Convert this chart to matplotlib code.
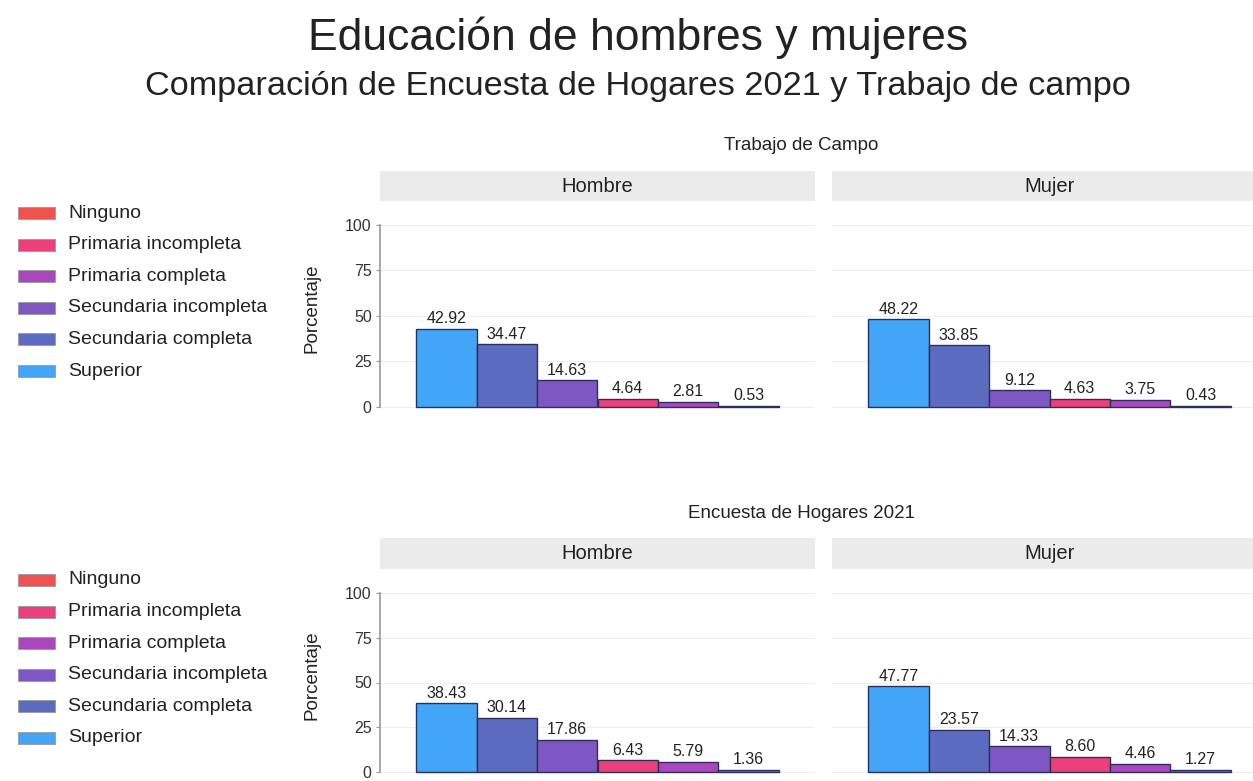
import matplotlib
matplotlib.use("Agg")
import matplotlib.pyplot as plt
from matplotlib.patches import Rectangle

plt.rcParams['font.family'] = ['Liberation Sans', 'DejaVu Sans']

W, H = 1253, 781

legend_labels = ["Ninguno", "Primaria incompleta", "Primaria completa",
                 "Secundaria incompleta", "Secundaria completa", "Superior"]
legend_colors = ["#EF5350", "#EC407A", "#AB47BC", "#7E57C2", "#5C6BC0", "#42A5F5"]
color_of = dict(zip(legend_labels, legend_colors))

bar_order = ["Superior", "Secundaria completa", "Secundaria incompleta",
             "Primaria incompleta", "Primaria completa", "Ninguno"]

tc_hombre = [42.92, 34.47, 14.63, 4.64, 2.81, 0.53]
tc_mujer = [48.22, 33.85, 9.12, 4.63, 3.75, 0.43]
eh_hombre = [38.43, 30.14, 17.86, 6.43, 5.79, 1.36]
eh_mujer = [47.77, 23.57, 14.33, 8.60, 4.46, 1.27]

sections = ["Trabajo de Campo", "Encuesta de Hogares 2021"]
panels = ["Hombre", "Mujer"]
yticks = [0, 25, 50, 75, 100]

fig = plt.figure(figsize=(W / 100, H / 100), dpi=100)
fig.patch.set_facecolor("white")


def ax_px(x0, y0, x1, y1):
    return fig.add_axes([x0 / W, 1 - y1 / H, (x1 - x0) / W, (y1 - y0) / H])


def fx(x):
    return x / W


def fy(y):
    return 1 - y / H


fig.text(fx(638), fy(38), "Educación de hombres y mujeres", ha="center", va="center",
         fontsize=32, color="#222222")
fig.text(fx(638), fy(87), "Comparación de Encuesta de Hogares 2021 y Trabajo de campo",
         ha="center", va="center", fontsize=24.7, color="#222222")

# layout per section: (section title y, strip top, strip bottom, y100 px, y0 px)
layouts = [(146, 171, 201, 225, 407), (514, 538, 569, 593, 772)]
data = [[tc_hombre, tc_mujer], [eh_hombre, eh_mujer]]
panel_x = [(380, 815), (832, 1267)]

for s, (ty, st0, st1, y100, y0px) in enumerate(layouts):
    fig.text(fx(801), fy(ty), sections[s], ha="center", va="center", fontsize=13.5,
             color="#222222")
    ppu = (y0px - y100) / 100.0
    ytop = 100 + (y100 - st1) / ppu
    pbot = y0px + 5 * ppu
    ybot = -5
    for p in range(2):
        x0, x1 = panel_x[p]
        # strip
        sax = ax_px(x0, st0, x1, st1)
        sax.set_facecolor("#EBEBEB")
        sax.set_xticks([]); sax.set_yticks([])
        for sp in sax.spines.values():
            sp.set_visible(False)
        sax.text(0.5, 0.5, panels[p], ha="center", va="center", fontsize=14.5,
                 color="#222222", transform=sax.transAxes)
        ax = ax_px(x0, st1, x1, pbot)
        vals = data[s][p]
        xs = list(range(1, 7))
        cols = [color_of[c] for c in bar_order]
        ax.bar(xs, vals, width=1.0, color=cols, edgecolor="#2E2E5C", linewidth=1.0,
               zorder=3)
        for xv, v in zip(xs, vals):
            ax.text(xv, v + 1.5, f"{v:.2f}", ha="center", va="bottom", fontsize=11.5,
                    color="#222222", zorder=4)
        ax.set_xlim(-0.1, 7.1)
        ax.set_ylim(ybot, ytop)
        ax.set_xticks([])
        ax.set_yticks(yticks)
        for yt in yticks:
            ax.axhline(yt, color="#EEEEEE", linewidth=0.8, zorder=0)
        for sp in ["top", "right", "bottom"]:
            ax.spines[sp].set_visible(False)
        if p == 0:
            ax.spines["left"].set_bounds(0, 100)
            ax.spines["left"].set_color("#999999")
            ax.spines["left"].set_linewidth(1.2)
            ax.tick_params(axis="y", length=3, color="#999999", labelsize=11.5,
                           labelcolor="#333333", pad=3)
            ax.set_ylabel("Porcentaje", fontsize=13.5, color="#222222", labelpad=18)
        else:
            ax.spines["left"].set_visible(False)
            ax.set_yticks([])
        ax.set_facecolor("none")

    # legend
    ly0 = [213, 580][s]
    for i, (lab, col) in enumerate(zip(legend_labels, legend_colors)):
        yc = ly0 + i * 31.6
        fig.patches.append(Rectangle((fx(18), fy(yc + 6)), (55 - 18) / W, 12 / H,
                                     transform=fig.transFigure, facecolor=col,
                                     edgecolor="#999999", linewidth=0.6))
        fig.text(fx(68), fy(yc), lab, ha="left", va="center", fontsize=14,
                 color="#222222")

fig.savefig("out.png", dpi=100)
